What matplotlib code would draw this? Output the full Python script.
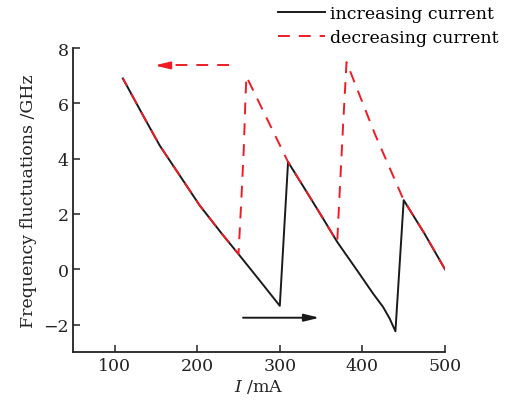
import matplotlib
matplotlib.use("Agg")
import matplotlib.pyplot as plt

plt.rcParams["font.family"] = "DejaVu Serif"
plt.rcParams["mathtext.fontset"] = "dejavuserif"
plt.rcParams["lines.scale_dashes"] = False

# increasing current sweep (mA, GHz)
inc_I = [110, 135, 154.5, 180, 203, 230, 250, 275, 300,
         310, 330, 352.5, 369.5, 395, 413, 425, 433, 440,
         450, 475, 500]
inc_f = [6.9, 5.53, 4.48, 3.34, 2.31, 1.28, 0.55, -0.38, -1.32,
         3.88, 2.92, 1.83, 0.99, -0.1, -0.88, -1.36, -1.78, -2.24,
         2.5, 1.3, 0.0]

# decreasing current sweep
dec_I = [500, 475, 450, 415, 380.8, 376.8, 372.7, 369.5, 352.5, 330, 310,
         285, 259.6, 258.4, 256.4, 253.5, 250, 230, 203, 180, 154.5, 135, 110]
dec_f = [0.0, 1.3, 2.5, 4.9, 7.49, 5.32, 2.91, 0.99, 1.83, 2.92, 3.88,
         5.41, 6.97, 6.16, 4.36, 2.55, 0.55, 1.28, 2.31, 3.34, 4.48, 5.53, 6.9]

xticks = [100, 200, 300, 400, 500]
yticks = [-2, 0, 2, 4, 6, 8]

black = "#1a1a1a"
red = "#ee1c25"
dash = (0, (8.5, 6.5))

fig = plt.figure(figsize=(5.07, 4.06), dpi=100)
ax = fig.add_axes([0.1446, 0.1298, 0.7331, 0.7495])

ax.plot(inc_I, inc_f, color=black, lw=1.4, label="increasing current", zorder=2)
ax.plot(dec_I, dec_f, color=red, lw=1.4, ls=dash, label="decreasing current", zorder=3)

# sweep direction arrows
ax.annotate("", xy=(348, -1.75), xytext=(255.5, -1.75),
            arrowprops=dict(arrowstyle="-|>,head_length=0.9,head_width=0.22",
                            color=black, lw=1.4, shrinkA=0, shrinkB=0))
ax.plot([239, 158], [7.37, 7.37], color=red, lw=1.4, ls=dash)
ax.annotate("", xy=(148.5, 7.37), xytext=(160, 7.37),
            arrowprops=dict(arrowstyle="-|>,head_length=0.9,head_width=0.22",
                            color=red, lw=1.4, shrinkA=0, shrinkB=0))

ax.set_xlim(50, 500)
ax.set_ylim(-3, 8)
ax.set_xticks(xticks)
ax.set_yticks(yticks)
ax.set_yticklabels(["\u22122" if t < 0 else str(t) for t in yticks])
ax.tick_params(direction="in", length=5, width=1.1, labelsize=12.5, colors="#222222")

for s in ["top", "right"]:
    ax.spines[s].set_visible(False)
for s in ["left", "bottom"]:
    ax.spines[s].set_linewidth(1.3)
    ax.spines[s].set_color("#222222")

ax.set_xlabel(r"$I$ /mA", fontsize=12.5, color="#222222", labelpad=2)
ax.set_ylabel("Frequency fluctuations /GHz", fontsize=12.5, color="#222222", labelpad=4)

fig.legend(loc="upper left", bbox_to_anchor=(0.548, 0.985), frameon=False,
           fontsize=12.5, handlelength=2.7, handletextpad=0.3, labelspacing=0.4,
           borderpad=0, borderaxespad=0)

fig.savefig("out.png", dpi=100)
